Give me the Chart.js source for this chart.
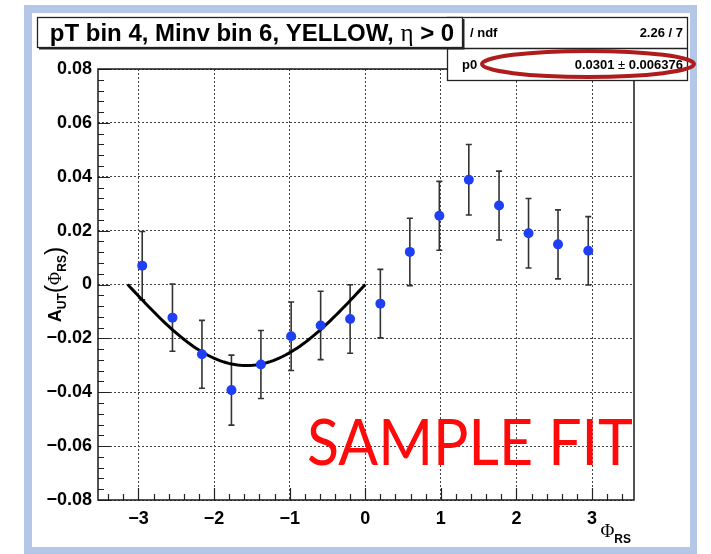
<!DOCTYPE html>
<html>
<head>
<meta charset="utf-8">
<script src="https://cdn.jsdelivr.net/npm/chart.js@4.4.1/dist/chart.umd.min.js"></script>
<style>
  html, body { margin: 0; padding: 0; background: #ffffff; }
  #wrap { position: relative; width: 711px; height: 554px; }
  canvas { display: block; }
</style>
</head>
<body>
<div id="wrap"><canvas id="c" width="711" height="554"></canvas></div>
<script>
// Bin centres in Phi_RS (16 bins over -pi..pi)
const phiRS = [-2.95, -2.55, -2.16, -1.77, -1.38, -0.98, -0.59, -0.20,
                0.20,  0.59,  0.98,  1.37,  1.77,  2.16,  2.55,  2.95];
// Measured asymmetry A_UT per bin
const asym = [ 0.0070, -0.0123, -0.0259, -0.0392, -0.0297, -0.0192, -0.0152, -0.0128,
              -0.0071,  0.0121,  0.0255,  0.0389,  0.0293,  0.0190,  0.0149,  0.0125];
// Statistical uncertainty per bin
const asymErr = [0.0127, 0.0125, 0.0126, 0.0130, 0.0126, 0.0127, 0.0127, 0.0127,
                 0.0127, 0.0125, 0.0128, 0.0131, 0.0128, 0.0129, 0.0128, 0.0127];

// Axis tick values
const xTickValues = [-3, -2, -1, 0, 1, 2, 3];
const yTickValues = [-0.08, -0.06, -0.04, -0.02, 0, 0.02, 0.04, 0.06, 0.08];

// Fit result: A = p0 * sin(Phi_RS), fitted on -pi..0
const fitP0 = 0.0301;
const fitP0Err = 0.006376;
const fitChi2 = 2.26;
const fitNdf = 7;
const fitRange = [-Math.PI, 0];

const titleText = 'pT bin 4, Minv bin 6, YELLOW, ';
const stampText = 'SAMPLE FIT';

// Sample the fit function over its range
const fitCurve = [];
for (let i = 0; i <= 80; i++) {
  const x = fitRange[0] + (fitRange[1] - fitRange[0]) * i / 80;
  fitCurve.push({ x: x, y: fitP0 * Math.sin(x) });
}
const points = phiRS.map((x, i) => ({ x: x, y: asym[i] }));

const FONT = '"Liberation Sans", Arial, Helvetica, sans-serif';
const SERIF = '"Liberation Serif", "Times New Roman", serif';

function fmtSigned(v, digits) {
  if (Math.abs(v) < 1e-9) return '0';
  return (v < 0 ? '\u2212' : '') + Math.abs(v).toFixed(digits);
}

// Draw a run of text pieces (different fonts / vertical offsets) in sequence
function drawRun(ctx, segs, x, y, align) {
  let total = 0;
  segs.forEach(s => { ctx.font = s.font; s.w = ctx.measureText(s.t).width + (s.gap || 0); total += s.w; });
  let cx = align === 'center' ? x - total / 2 : (align === 'right' ? x - total : x);
  ctx.textAlign = 'left';
  segs.forEach(s => {
    ctx.font = s.font;
    ctx.fillText(s.t, cx, y + (s.dy || 0));
    cx += s.w;
  });
}

const backdrop = {
  id: 'backdrop',
  beforeDraw(chart) {
    const ctx = chart.ctx;
    ctx.save();
    ctx.fillStyle = '#ffffff';
    ctx.fillRect(0, 0, 711, 554);
    ctx.fillStyle = '#b5c7e7';
    ctx.fillRect(24, 5, 673, 549);
    ctx.fillStyle = '#ffffff';
    ctx.fillRect(32, 13, 658, 534);
    ctx.restore();
  }
};

const errorBars = {
  id: 'errorBars',
  beforeDatasetsDraw(chart) {
    const ctx = chart.ctx;
    const xs = chart.scales.x, ys = chart.scales.y;
    ctx.save();
    ctx.strokeStyle = '#333333';
    ctx.lineWidth = 1.6;
    phiRS.forEach((x, i) => {
      const px = xs.getPixelForValue(x);
      const top = ys.getPixelForValue(asym[i] + asymErr[i]);
      const bot = ys.getPixelForValue(asym[i] - asymErr[i]);
      ctx.beginPath();
      ctx.moveTo(px, top); ctx.lineTo(px, bot);
      ctx.moveTo(px - 3, top); ctx.lineTo(px + 3, top);
      ctx.moveTo(px - 3, bot); ctx.lineTo(px + 3, bot);
      ctx.stroke();
    });
    ctx.restore();
  }
};

const frameAndDecor = {
  id: 'frameAndDecor',
  afterDraw(chart) {
    const ctx = chart.ctx;
    const a = chart.chartArea;
    const xs = chart.scales.x, ys = chart.scales.y;
    ctx.save();

    // Inner tick marks (major and minor)
    ctx.strokeStyle = '#222222';
    ctx.lineWidth = 1.2;
    ctx.beginPath();
    for (let k = -20; k <= 20; k++) {
      const v = k * 0.004;
      const py = Math.round(ys.getPixelForValue(v)) + 0.5;
      const len = (k % 5 === 0) ? 12 : 6;
      ctx.moveTo(a.left, py); ctx.lineTo(a.left + len, py);
    }
    for (let k = -17; k <= 17; k++) {
      const v = k * 0.2;
      const px = Math.round(xs.getPixelForValue(v)) + 0.5;
      const len = (k % 5 === 0) ? 12 : 6;
      ctx.moveTo(px, a.bottom); ctx.lineTo(px, a.bottom - len);
    }
    ctx.stroke();

    // Frame
    ctx.lineWidth = 1.5;
    ctx.strokeStyle = '#1a1a1a';
    ctx.strokeRect(a.left, a.top, a.right - a.left, a.bottom - a.top);

    // Axis titles
    ctx.fillStyle = '#000000';
    ctx.textBaseline = 'alphabetic';
    drawRun(ctx, [
      { t: '\u03A6', font: '19px ' + SERIF },
      { t: 'RS', font: 'bold 12px ' + FONT, dy: 6 }
    ], 631, 537, 'right');

    ctx.save();
    ctx.translate(61, (a.top + a.bottom) / 2);
    ctx.rotate(-Math.PI / 2);
    drawRun(ctx, [
      { t: 'A', font: 'bold 18px ' + FONT },
      { t: 'UT', font: 'bold 12px ' + FONT, dy: 5 },
      { t: '(', font: '25px ' + FONT, dy: 2 },
      { t: '\u03A6', font: '18px ' + SERIF },
      { t: 'RS', font: 'bold 12px ' + FONT, dy: 5 },
      { t: ')', font: '25px ' + FONT, dy: 2 }
    ], 0, 0, 'center');
    ctx.restore();

    // Fit statistics box
    ctx.fillStyle = '#ffffff';
    ctx.fillRect(447, 17, 241, 64);
    ctx.strokeStyle = '#222222';
    ctx.lineWidth = 1.3;
    ctx.strokeRect(447.5, 17.5, 240, 63);
    ctx.beginPath();
    ctx.moveTo(447.5, 48.5); ctx.lineTo(687.5, 48.5);
    ctx.stroke();
    ctx.fillStyle = '#000000';
    ctx.textBaseline = 'middle';
    ctx.font = 'bold 13px ' + FONT;
    ctx.textAlign = 'left';
    ctx.fillText('/ ndf', 470, 33);
    ctx.fillText('p0', 462, 65);
    ctx.textAlign = 'right';
    ctx.fillText(fitChi2.toFixed(2) + ' / ' + fitNdf, 683, 33);
    drawRun(ctx, [
      { t: String(fitP0) + ' ', font: 'bold 13px ' + FONT },
      { t: '\u00B1', font: '13px ' + FONT },
      { t: ' ' + String(fitP0Err), font: 'bold 13px ' + FONT }
    ], 683, 65, 'right');

    // Red ellipse around the parameter value
    ctx.strokeStyle = '#b01c1c';
    ctx.lineWidth = 4;
    ctx.beginPath();
    ctx.ellipse(588, 64, 106, 13, 0, 0, Math.PI * 2);
    ctx.stroke();

    // Title box (drawn over the stats box corner)
    ctx.fillStyle = '#ffffff';
    ctx.fillRect(37, 17, 425, 30);
    ctx.strokeStyle = '#222222';
    ctx.lineWidth = 1.3;
    ctx.strokeRect(37.5, 17.5, 425, 30);
    ctx.beginPath();
    ctx.lineWidth = 2;
    ctx.moveTo(39, 48.5); ctx.lineTo(463.5, 48.5); ctx.lineTo(463.5, 19);
    ctx.stroke();
    ctx.fillStyle = '#000000';
    ctx.textBaseline = 'alphabetic';
    drawRun(ctx, [
      { t: titleText, font: 'bold 24px ' + FONT },
      { t: '\u03B7', font: '25px ' + SERIF },
      { t: ' > 0', font: 'bold 24px ' + FONT }
    ], 252, 41, 'center');

    // Stamp text
    ctx.fillStyle = '#ff0a0a';
    ctx.font = '64px Lato, "Open Sans", sans-serif';
    ctx.textAlign = 'left';
    const w = ctx.measureText(stampText).width;
    ctx.translate(307, 465);
    ctx.scale(326 / w, 1);
    ctx.fillText(stampText, 0, 0);

    ctx.restore();
  }
};

new Chart(document.getElementById('c'), {
  type: 'scatter',
  data: {
    datasets: [
      {
        label: 'fit',
        type: 'line',
        data: fitCurve,
        borderColor: '#000000',
        borderWidth: 3,
        pointRadius: 0,
        fill: false,
        tension: 0,
        order: 2
      },
      {
        label: 'A_UT',
        data: points,
        pointRadius: 5,
        pointBackgroundColor: '#1f3ff5',
        pointBorderColor: '#1f3ff5',
        pointBorderWidth: 0,
        order: 1
      }
    ]
  },
  options: {
    responsive: false,
    animation: false,
    devicePixelRatio: 1,
    layout: { padding: { top: 69, right: 77, left: 0, bottom: 0 } },
    plugins: { legend: { display: false }, tooltip: { enabled: false }, title: { display: false } },
    scales: {
      x: {
        type: 'linear',
        min: -3.535,
        max: 3.555,
        afterFit: s => { s.height = 54; },
        afterBuildTicks: s => { s.ticks = xTickValues.map(v => ({ value: v })); },
        ticks: {
          includeBounds: false,
          autoSkip: false,
          maxRotation: 0,
          padding: 8,
          color: '#000000',
          font: { family: FONT, size: 18, weight: 'bold' },
          callback: v => fmtSigned(v, 0)
        },
        grid: { color: '#444444', lineWidth: 1, drawTicks: false },
        border: { display: false, dash: [2, 2] }
      },
      y: {
        type: 'linear',
        min: -0.08,
        max: 0.08,
        afterFit: s => { s.width = 98; },
        afterBuildTicks: s => { s.ticks = yTickValues.map(v => ({ value: v })); },
        ticks: {
          includeBounds: false,
          autoSkip: false,
          padding: 6,
          color: '#000000',
          font: { family: FONT, size: 18, weight: 'bold' },
          callback: v => fmtSigned(v, 2)
        },
        grid: { color: '#444444', lineWidth: 1, drawTicks: false },
        border: { display: false, dash: [2, 2] }
      }
    }
  },
  plugins: [backdrop, errorBars, frameAndDecor]
});
</script>
</body>
</html>
